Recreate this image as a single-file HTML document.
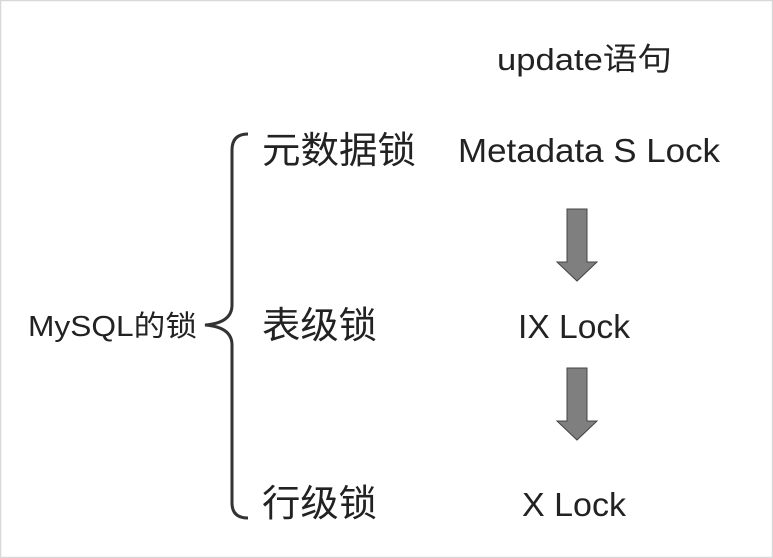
<!DOCTYPE html>
<html><head><meta charset="utf-8"><style>
html,body{margin:0;padding:0;background:#fff}
svg{display:block}
text{font-family:"Liberation Sans","Noto Sans CJK SC",sans-serif;fill:#222}
</style></head><body>
<svg width="773" height="558" viewBox="0 0 773 558" xmlns="http://www.w3.org/2000/svg">
<rect x="0.5" y="0.5" width="772" height="557" fill="#fff" stroke="#d8d8d8" stroke-width="1.5"/>
<text x="497" y="70" font-size="31" textLength="175" lengthAdjust="spacingAndGlyphs">update语句</text>
<text x="262" y="163" font-size="37" textLength="154" lengthAdjust="spacingAndGlyphs">元数据锁</text>
<text x="458" y="162" font-size="33" textLength="262" lengthAdjust="spacingAndGlyphs">Metadata S Lock</text>
<text x="262" y="338" font-size="37" textLength="115" lengthAdjust="spacingAndGlyphs">表级锁</text>
<text x="518" y="338" font-size="33" textLength="112" lengthAdjust="spacingAndGlyphs">IX Lock</text>
<text x="262" y="516" font-size="37" textLength="115" lengthAdjust="spacingAndGlyphs">行级锁</text>
<text x="522" y="516" font-size="33" textLength="104" lengthAdjust="spacingAndGlyphs">X Lock</text>
<text x="28" y="336" font-size="29" textLength="169" lengthAdjust="spacingAndGlyphs">MySQL的锁</text>
<path d="M248,134 Q232,134 232,150 L232,305 Q232,323 205,325 Q232,327 232,345 L232,503 Q232,518 248,518" fill="none" stroke="#333" stroke-width="3"/>
<polygon points="567,209 587,209 587,262 597,262 577,281 557,262 567,262" fill="#7f7f7f" stroke="#444" stroke-width="1"/>
<polygon points="567,368 587,368 587,421 597,421 577,440 557,421 567,421" fill="#7f7f7f" stroke="#444" stroke-width="1"/>
</svg>
</body></html>
